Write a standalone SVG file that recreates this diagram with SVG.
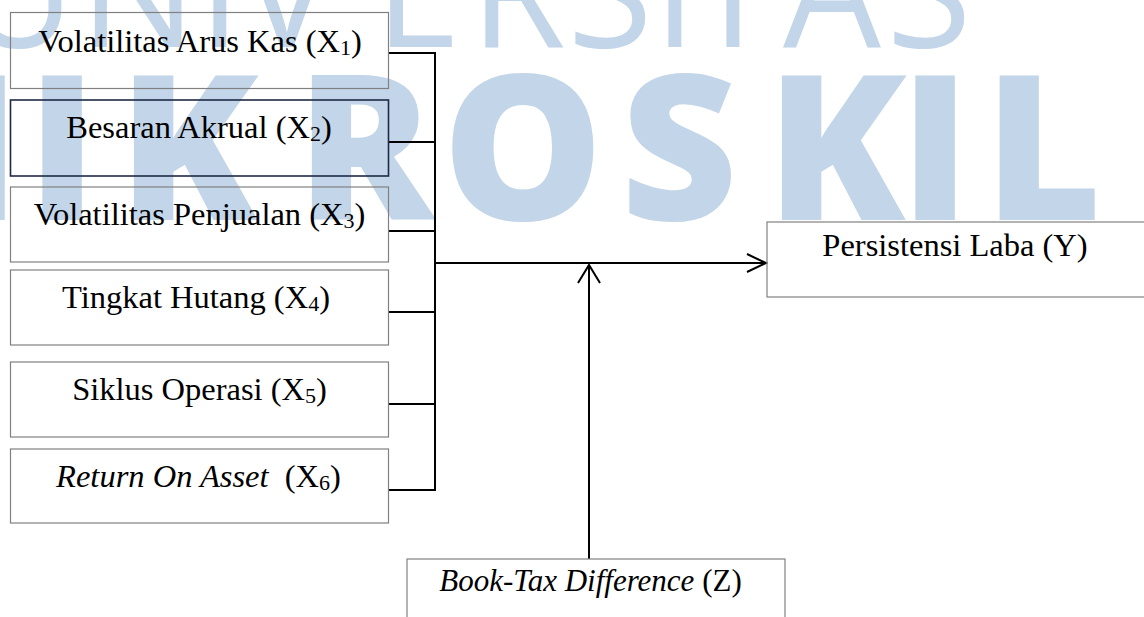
<svg xmlns="http://www.w3.org/2000/svg" width="1144" height="617" viewBox="0 0 1144 617">
<style>
.wm{fill:#c3d5e8;font-family:"Open Sans","DejaVu Sans",sans-serif;text-anchor:middle}
.w1{font-size:155px}
.w2{font-size:203px;font-weight:800}
.box{fill:none;stroke:#808080;stroke-width:1.2}
.box2{fill:none;stroke:#1f2a44;stroke-width:1.6}
.lbl{font-family:"Liberation Serif","Times New Roman",serif;font-size:32.5px;fill:#000;text-anchor:middle}
.sub{font-size:22px}
.it{font-style:italic}
.conn{stroke:#000;stroke-width:2;fill:none}
</style>
<rect width="1144" height="617" fill="#fff"/>
<g id="watermark">
<text class="wm w1" y="47"><tspan x="19">U</tspan><tspan x="138">N</tspan><tspan x="220">I</tspan><tspan x="287">V</tspan><tspan x="418">E</tspan><tspan x="518">R</tspan><tspan x="610">S</tspan><tspan x="675">I</tspan><tspan x="733">T</tspan><tspan x="832">A</tspan><tspan x="929">S</tspan></text>
<text class="wm w2" y="220"><tspan x="-78">M</tspan><tspan x="62">I</tspan><tspan x="188">K</tspan><tspan x="365">R</tspan><tspan x="523">O</tspan><tspan x="679">S</tspan><tspan x="836">K</tspan><tspan x="935">I</tspan><tspan x="1043">L</tspan></text>
</g>
<g id="connectors">
<path class="conn" d="M388 53H435M388 142H435M388 231H435M388 312H435M388 404H435M388 490H435M435 52V491"/>
<path class="conn" d="M435 263H765M747 254L766 263L747 272"/>
<path class="conn" d="M589 559V266M578 283L589 265L600 283"/>
</g>
<g id="x1">
<rect class="box" x="10.5" y="12.5" width="378" height="76"/>
<text class="lbl" x="200" y="52">Volatilitas Arus Kas (X<tspan class="sub" dy="3">1</tspan><tspan dy="-3">)</tspan></text>
</g>
<g id="x2">
<rect class="box2" x="10.5" y="100" width="378" height="76"/>
<text class="lbl" x="199" y="138">Besaran Akrual (X<tspan class="sub" dy="3">2</tspan><tspan dy="-3">)</tspan></text>
</g>
<g id="x3">
<rect class="box" x="10.5" y="187" width="378" height="75"/>
<text class="lbl" x="199.5" y="225">Volatilitas Penjualan (X<tspan class="sub" dy="3">3</tspan><tspan dy="-3">)</tspan></text>
</g>
<g id="x4">
<rect class="box" x="10.5" y="270" width="378" height="75"/>
<text class="lbl" x="196" y="308">Tingkat Hutang (X<tspan class="sub" dy="3">4</tspan><tspan dy="-3">)</tspan></text>
</g>
<g id="x5">
<rect class="box" x="10.5" y="362" width="378" height="75"/>
<text class="lbl" x="199.5" y="400">Siklus Operasi (X<tspan class="sub" dy="3">5</tspan><tspan dy="-3">)</tspan></text>
</g>
<g id="x6">
<rect class="box" x="10.5" y="449" width="378" height="74"/>
<text class="lbl" x="198.5" y="487" xml:space="preserve"><tspan class="it">Return On Asset</tspan>  (X<tspan class="sub" dy="3">6</tspan><tspan dy="-3">)</tspan></text>
</g>
<g id="y">
<rect class="box" x="767" y="222" width="380" height="75"/>
<text class="lbl" x="955" y="256">Persistensi Laba (Y)</text>
</g>
<g id="z">
<rect class="box" x="407" y="559" width="378" height="75"/>
<text class="lbl" x="590.5" y="591" style="font-size:31px"><tspan class="it">Book-Tax Difference</tspan> (Z)</text>
</g>
</svg>
